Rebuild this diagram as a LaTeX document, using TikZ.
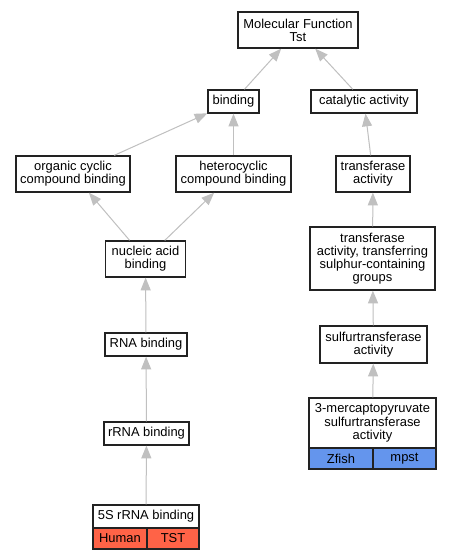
\documentclass[tikz,border=0pt]{standalone}
\usepackage{fontspec}
\setmainfont{Liberation Sans}
\usetikzlibrary{arrows.meta}
\definecolor{edgegray}{HTML}{C0C0C0}
\definecolor{tomatored}{HTML}{FF6347}
\definecolor{cornblue}{HTML}{6495ED}
\definecolor{borderc}{HTML}{222222}
\begin{document}
\begin{tikzpicture}[x=0.75pt,y=-0.75pt,
  every node/.style={font=\fontsize{9.7}{9.9}\selectfont, align=center, inner sep=0pt},
  term/.style 2 args={draw=borderc, line width=1pt, fill=white, minimum width=#1*0.75pt, minimum height=#2*0.75pt},
  redcell/.style 2 args={term={#1}{#2}, fill=tomatored},
  bluecell/.style 2 args={term={#1}{#2}, fill=cornblue},
  isa/.style={draw=edgegray, line width=0.75pt, -{Triangle[length=9.5pt,width=7.5pt]}}]
\fill[white] (0,0) rectangle (451,560);
\useasboundingbox (0,0) rectangle (451,560);

% nodes
\node[term={120}{36}] (mf) at (298,30) {Molecular Function\\Tst};
\node[term={51}{23}] (binding) at (233.5,101.5) {binding};
\node[term={106}{23}] (catalytic) at (364,101.5) {catalytic activity};
\node[term={114}{36}] (organic) at (73,174) {organic cyclic\\compound binding};
\node[term={115}{36}] (hetero) at (233.5,174) {heterocyclic\\compound binding};
\node[term={74}{36}] (transferase) at (373,174) {transferase\\activity};
\node[term={80}{36}] (nucleic) at (145.5,259) {nucleic acid\\binding};
\node[term={82}{23}] (rna) at (146,344.5) {RNA binding};
\node[term={85}{23}] (rrna) at (146.5,433.5) {rRNA binding};
\node[term={125}{63}] (sulphur) at (372.5,258.5) {transferase\\activity, transferring\\sulphur-containing\\groups};
\node[term={107}{37}] (sulfur) at (373.5,344.5) {sulfurtransferase\\activity};
\node[term={127}{50}] (mp) at (372.5,423) {3-mercaptopyruvate\\sulfurtransferase\\activity};
\node[bluecell={64}{21}] (zfish) at (341,458.5) {Zfish};
\node[bluecell={63}{21}] (mpst) at (404.5,458.5) {mpst};
\node[term={106}{23}] (fives) at (146,516.5) {5S rRNA binding};
\node[redcell={54}{21}] (human) at (120,538.5) {Human};
\node[redcell={52}{21}] (tst) at (173,538.5) {TST};

% edges
\draw[isa] (binding) -- (mf);
\draw[isa] (catalytic) -- (mf);
\draw[isa] (organic) -- (binding);
\draw[isa] (hetero) -- (binding);
\draw[isa] (transferase) -- (catalytic);
\draw[isa] (nucleic) -- (organic);
\draw[isa] (nucleic) -- (hetero);
\draw[isa] (rna) -- (nucleic);
\draw[isa] (rrna) -- (rna);
\draw[isa] (fives) -- (rrna);
\draw[isa] (sulphur) -- (transferase);
\draw[isa] (sulfur) -- (sulphur);
\draw[isa] (mp) -- (sulfur);
\end{tikzpicture}
\end{document}
